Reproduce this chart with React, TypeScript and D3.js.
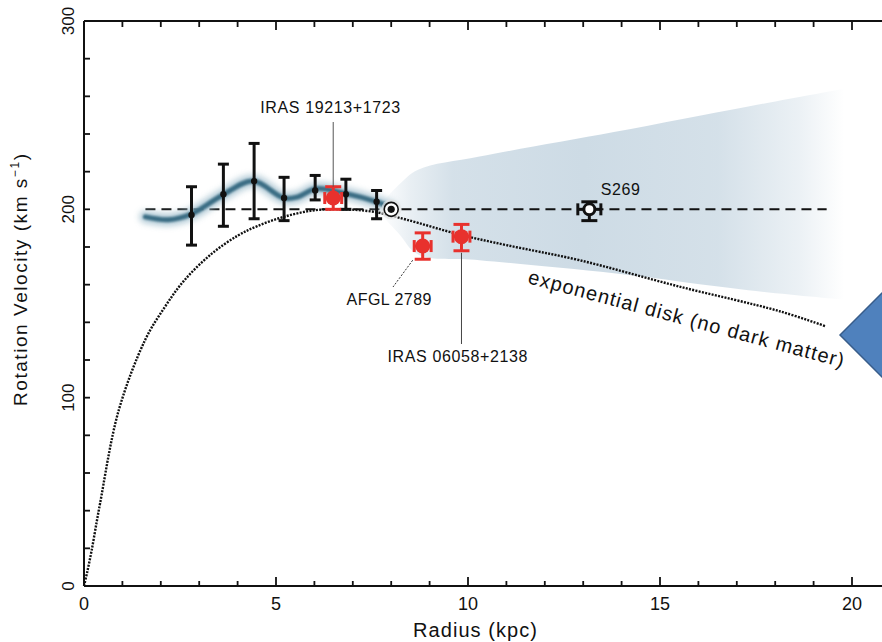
import { useEffect, useRef } from "react";
import * as d3 from "d3";

const radiusTicks = [0, 5, 10, 15, 20];
const velocityTicks = [0, 100, 200, 300];

// dotted curve: exponential disk, no dark matter
const diskRadius = [0, 0.09, 0.2, 0.33, 0.42, 0.9, 1.6, 2.1, 2.6, 3.3, 4.0, 4.5, 5.2, 6.0, 6.8, 7.6, 8.4, 9.8, 11.0, 12.9, 15.5, 18.1, 19.3];
const diskVelocity = [0, 8, 19, 34, 44, 93, 131, 148, 162, 176, 186, 191, 196, 199.5, 200, 198.5, 194.5, 186.5, 181, 173, 159, 146, 138];

// flat rotation curve (dashed)
const flatVelocity = 200;
const flatRange = [1.6, 19.34];

// wavy blue fit through the inner points
const waveRadius = [1.6, 2.2, 2.8, 3.6, 4.4, 5.2, 5.55, 6.05, 6.8, 7.62, 8.0];
const waveVelocity = [196, 194.5, 197.5, 207.5, 215, 206, 206.5, 211, 208.5, 204, 201];

// shaded band beyond the sun
const bandRadius = [7.7, 8.2, 8.7, 10.3, 13.8, 17.3, 19.8];
const bandUpper = [202, 213, 221, 228, 241, 254.6, 264];
const bandLower = [198, 187, 176, 173, 166, 157, 152];

// black points with error bars
const innerRadius = [2.8, 3.63, 4.43, 5.21, 6.02, 6.82, 7.62];
const innerVelocity = [197, 208, 215, 206, 210, 208, 204];
const innerLow = [181, 191, 195, 194, 205, 200, 195];
const innerHigh = [212, 224, 235, 217, 218, 216, 210];

// red masers
const maserNames = ["IRAS 19213+1723", "AFGL 2789", "IRAS 06058+2138"];
const maserRadius = [6.49, 8.82, 9.83];
const maserVelocity = [206, 180.5, 185.5];
const maserLow = [200, 173.5, 178];
const maserHigh = [212, 187.5, 192];
const maserRadiusErr = [0.22, 0.22, 0.22];

// S269
const s269Name = "S269";
const s269Radius = 13.16;
const s269Velocity = 200;
const s269Low = 194;
const s269High = 204;
const s269RadiusErr = 0.3;

// sun
const sunRadius = 8.0;
const sunVelocity = 200;

export default function App() {
    const ref = useRef<SVGSVGElement>(null);

    useEffect(() => {
        const svg = d3.select(ref.current);
        svg.selectAll("*").remove();

        const font = "'Liberation Sans', Arial, sans-serif";
        const x = d3.scaleLinear().domain([0, 20]).range([84, 852]);
        const y = d3.scaleLinear().domain([0, 300]).range([586, 21]);
        const red = "#e8312d";
        const ink = "#111";

        const defs = svg.append("defs");
        const grad = defs.append("linearGradient")
            .attr("id", "bandFade")
            .attr("gradientUnits", "userSpaceOnUse")
            .attr("x1", x(7.7)).attr("x2", x(19.8))
            .attr("y1", 0).attr("y2", 0);
        [[7.7, 0], [8.5, 0.45], [9.6, 0.85], [13, 1], [16.5, 0.85], [18.6, 0.4], [19.8, 0]].forEach(([r, o]) => {
            grad.append("stop")
                .attr("offset", (r - 7.7) / (19.8 - 7.7))
                .attr("stop-color", "#cddbe5")
                .attr("stop-opacity", o);
        });
        defs.append("filter").attr("id", "soft").attr("x", "-20%").attr("y", "-50%").attr("width", "140%").attr("height", "200%")
            .append("feGaussianBlur").attr("stdDeviation", 1.2);
        defs.append("filter").attr("id", "glow").attr("x", "-20%").attr("y", "-50%").attr("width", "140%").attr("height", "200%")
            .append("feGaussianBlur").attr("stdDeviation", 3);

        // band
        const band = d3.area<number>()
            .x((i) => x(bandRadius[i]))
            .y0((i) => y(bandLower[i]))
            .y1((i) => y(bandUpper[i]))
            .curve(d3.curveCatmullRom);
        svg.append("path")
            .attr("d", band(d3.range(bandRadius.length)))
            .attr("fill", "url(#bandFade)");

        // flat dashed line
        svg.append("line")
            .attr("x1", x(flatRange[0])).attr("x2", x(flatRange[1]))
            .attr("y1", y(flatVelocity)).attr("y2", y(flatVelocity))
            .attr("stroke", ink).attr("stroke-width", 2)
            .attr("stroke-dasharray", "10 6");

        // wave
        const wave = d3.line<number>()
            .x((i) => x(waveRadius[i]))
            .y((i) => y(waveVelocity[i]))
            .curve(d3.curveCatmullRom);
        const waveIdx = d3.range(waveRadius.length);
        svg.append("path").attr("d", wave(waveIdx))
            .attr("fill", "none").attr("stroke", "#9dbccb").attr("stroke-width", 12)
            .attr("stroke-linecap", "round").attr("opacity", 0.8).attr("filter", "url(#glow)");
        svg.append("path").attr("d", wave(waveIdx))
            .attr("fill", "none").attr("stroke", "#3a6d84").attr("stroke-width", 5)
            .attr("stroke-linecap", "round").attr("filter", "url(#soft)");

        // exponential disk curve
        const disk = d3.line<number>()
            .x((i) => x(diskRadius[i]))
            .y((i) => y(diskVelocity[i]))
            .curve(d3.curveCatmullRom);
        svg.append("path").attr("d", disk(d3.range(diskRadius.length)))
            .attr("fill", "none").attr("stroke", ink).attr("stroke-width", 2.4)
            .attr("stroke-dasharray", "2 1.3");

        // black error bars
        const inner = svg.append("g").attr("stroke", ink).attr("stroke-width", 3);
        innerRadius.forEach((r, i) => {
            const cx = x(r);
            inner.append("line").attr("x1", cx).attr("x2", cx).attr("y1", y(innerLow[i])).attr("y2", y(innerHigh[i]));
            [innerLow[i], innerHigh[i]].forEach((v) => {
                inner.append("line").attr("x1", cx - 5.5).attr("x2", cx + 5.5).attr("y1", y(v)).attr("y2", y(v));
            });
            inner.append("circle").attr("cx", cx).attr("cy", y(innerVelocity[i])).attr("r", 3.2).attr("fill", ink).attr("stroke", "none");
        });

        // sun
        svg.append("circle").attr("cx", x(sunRadius)).attr("cy", y(sunVelocity)).attr("r", 10)
            .attr("fill", "#e4e4e4").attr("opacity", 0.7);
        svg.append("circle").attr("cx", x(sunRadius)).attr("cy", y(sunVelocity)).attr("r", 7)
            .attr("fill", "#fff").attr("stroke", ink).attr("stroke-width", 1.6);
        svg.append("circle").attr("cx", x(sunRadius)).attr("cy", y(sunVelocity)).attr("r", 3.6).attr("fill", ink);

        // cross-shaped error markers
        const crossMarker = (r: number, v: number, lo: number, hi: number, rErr: number, color: string, open: boolean) => {
            const g = svg.append("g").attr("stroke", color).attr("stroke-width", 3);
            const cx = x(r), cy = y(v);
            g.append("line").attr("x1", cx).attr("x2", cx).attr("y1", y(lo)).attr("y2", y(hi));
            [lo, hi].forEach((val) => {
                g.append("line").attr("x1", cx - 8).attr("x2", cx + 8).attr("y1", y(val)).attr("y2", y(val));
            });
            g.append("line").attr("x1", x(r - rErr)).attr("x2", x(r + rErr)).attr("y1", cy).attr("y2", cy);
            [r - rErr, r + rErr].forEach((val) => {
                g.append("line").attr("x1", x(val)).attr("x2", x(val)).attr("y1", cy - 6).attr("y2", cy + 6);
            });
            if (open) {
                g.append("circle").attr("cx", cx).attr("cy", cy).attr("r", 5.5).attr("fill", "#fff");
            } else {
                g.append("circle").attr("cx", cx).attr("cy", cy).attr("r", 7.5).attr("fill", color).attr("stroke", "none");
            }
        };
        maserRadius.forEach((r, i) => crossMarker(r, maserVelocity[i], maserLow[i], maserHigh[i], maserRadiusErr[i], red, false));
        crossMarker(s269Radius, s269Velocity, s269Low, s269High, s269RadiusErr, ink, true);

        // annotations
        const labels = svg.append("g").attr("font-family", font).attr("font-size", 16).attr("fill", ink);
        labels.append("text").attr("x", x(maserRadius[0]) - 3).attr("y", 113)
            .attr("text-anchor", "middle").attr("textLength", 140).text(maserNames[0]);
        svg.append("line").attr("x1", x(maserRadius[0])).attr("x2", x(maserRadius[0]))
            .attr("y1", 122).attr("y2", y(maserHigh[0]))
            .attr("stroke", "#555").attr("stroke-width", 1);

        labels.append("text").attr("x", 389).attr("y", 305)
            .attr("text-anchor", "middle").attr("textLength", 85).text(maserNames[1]);
        svg.append("line").attr("x1", x(maserRadius[1]) - 10).attr("y1", y(maserLow[1]) + 1)
            .attr("x2", 393).attr("y2", 287)
            .attr("stroke", "#333").attr("stroke-width", 1).attr("stroke-dasharray", "2 1.5");

        labels.append("text").attr("x", x(maserRadius[2]) - 4).attr("y", 362)
            .attr("text-anchor", "middle").attr("textLength", 140).text(maserNames[2]);
        svg.append("line").attr("x1", x(maserRadius[2])).attr("x2", x(maserRadius[2]))
            .attr("y1", y(maserLow[2]) + 2).attr("y2", 344)
            .attr("stroke", "#444").attr("stroke-width", 1);

        labels.append("text").attr("x", x(s269Radius) + 11.5).attr("y", y(s269High) - 6.5)
            .attr("textLength", 39).text(s269Name);

        svg.append("text")
            .attr("transform", "translate(527,283) rotate(15)")
            .attr("font-family", font).attr("font-size", 20).attr("fill", ink)
            .attr("textLength", 326)
            .text("exponential disk (no dark matter)");

        // axes
        const axes = svg.append("g").attr("stroke", ink);
        axes.append("line").attr("x1", x(0)).attr("x2", 882).attr("y1", y(0)).attr("y2", y(0)).attr("stroke-width", 2);
        axes.append("line").attr("x1", x(0)).attr("x2", 882).attr("y1", y(300)).attr("y2", y(300)).attr("stroke-width", 2);
        axes.append("line").attr("x1", x(0)).attr("x2", x(0)).attr("y1", y(0)).attr("y2", y(300)).attr("stroke-width", 2);

        d3.range(0, 21).forEach((r) => {
            const major = r % 5 === 0;
            axes.append("line").attr("x1", x(r)).attr("x2", x(r))
                .attr("y1", y(0)).attr("y2", y(0) - (major ? 9 : 5)).attr("stroke-width", 1.8);
            axes.append("line").attr("x1", x(r)).attr("x2", x(r))
                .attr("y1", y(300)).attr("y2", y(300) + (major ? 9 : 6)).attr("stroke-width", 1.8);
        });
        d3.range(0, 301, 20).forEach((v) => {
            axes.append("line").attr("x1", x(0)).attr("x2", x(0) + 6)
                .attr("y1", y(v)).attr("y2", y(v)).attr("stroke-width", 1.8);
        });

        const tickText = svg.append("g").attr("font-family", font).attr("fill", ink);
        radiusTicks.forEach((r) => {
            tickText.append("text").attr("x", x(r)).attr("y", 610)
                .attr("text-anchor", "middle").attr("font-size", 18).text(r);
        });
        velocityTicks.forEach((v) => {
            tickText.append("text")
                .attr("transform", `translate(68,${y(v)}) rotate(-90)`)
                .attr("text-anchor", "middle").attr("dominant-baseline", "central")
                .attr("font-size", 17).text(v);
        });

        svg.append("text").attr("x", 475).attr("y", 637)
            .attr("text-anchor", "middle").attr("font-family", font).attr("font-size", 20)
            .attr("fill", ink).attr("textLength", 124)
            .text("Radius (kpc)");

        const yTitle = svg.append("text")
            .attr("transform", "translate(27,280) rotate(-90)")
            .attr("text-anchor", "middle").attr("font-family", font).attr("font-size", 19)
            .attr("fill", ink).attr("textLength", 252);
        yTitle.append("tspan").text("Rotation Velocity (km s");
        yTitle.append("tspan").attr("font-size", 12).attr("dy", -8).text("−1");
        yTitle.append("tspan").attr("dy", 8).text(")");

        // overlay shape at the right edge
        svg.append("polygon")
            .attr("points", "840,335 890,285 940,335 890,385")
            .attr("fill", "#4f81bd").attr("stroke", "#385d8a").attr("stroke-width", 1.5);
    }, []);

    return (
        <svg ref={ref} width={882} height={642}
             style={{position: "absolute", left: 0, top: 0, background: "#fff"}}/>
    );
}
